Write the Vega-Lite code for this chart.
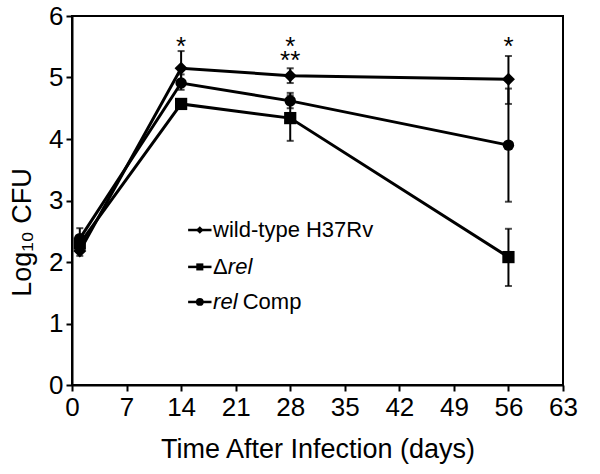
{
  "$schema": "https://vega.github.io/schema/vega-lite/v6.json",
  "width": 491,
  "height": 369,
  "autosize": {"type": "none"},
  "padding": {"left": 72, "top": 16, "right": 37, "bottom": 89},
  "background": "white",
  "config": {
    "font": "Liberation Sans",
    "view": {"stroke": "black", "strokeWidth": 2},
    "axis": {
      "domainColor": "black", "domainWidth": 2, "tickColor": "black", "tickWidth": 2, "tickSize": 6,
      "labelColor": "black", "labelFontSize": 26, "labelFont": "Liberation Sans", "labelFlush": false,
      "titleColor": "black", "titleFontSize": 27, "titleFontWeight": "normal", "titleFont": "Liberation Sans",
      "grid": false
    }
  },
  "datasets": {
    "pts": [
      {"series": "wt", "day": 1, "mean": 2.18, "lo": 2.1, "hi": 2.3},
      {"series": "wt", "day": 14, "mean": 5.15, "lo": 4.92, "hi": 5.43},
      {"series": "wt", "day": 28, "mean": 5.03, "lo": 4.91, "hi": 5.15},
      {"series": "wt", "day": 56, "mean": 4.97, "lo": 4.57, "hi": 5.35},
      {"series": "rel", "day": 1, "mean": 2.3, "lo": 2.2, "hi": 2.42},
      {"series": "rel", "day": 14, "mean": 4.57, "lo": 4.5, "hi": 4.65},
      {"series": "rel", "day": 28, "mean": 4.34, "lo": 3.97, "hi": 4.71},
      {"series": "rel", "day": 56, "mean": 2.08, "lo": 1.61, "hi": 2.54},
      {"series": "comp", "day": 1, "mean": 2.38, "lo": 2.25, "hi": 2.55},
      {"series": "comp", "day": 14, "mean": 4.91, "lo": 4.8, "hi": 5.05},
      {"series": "comp", "day": 28, "mean": 4.62, "lo": 4.5, "hi": 4.75},
      {"series": "comp", "day": 56, "mean": 3.9, "lo": 2.98, "hi": 4.82}
    ],
    "stars": [
      {"day": 14, "value": 5.5, "label": "*"},
      {"day": 28, "value": 5.5, "label": "*"},
      {"day": 28, "value": 5.27, "label": "**"},
      {"day": 56, "value": 5.5, "label": "*"}
    ]
  },
  "layer": [
    {
      "data": {"name": "pts"},
      "mark": {"type": "rule", "color": "black", "strokeWidth": 2},
      "encoding": {
        "x": {"field": "day", "type": "quantitative", "scale": {"domain": [0, 63], "nice": false},
              "axis": {"values": [0, 7, 14, 21, 28, 35, 42, 49, 56, 63], "format": "d", "title": "Time After Infection (days)", "titlePadding": 16, "labelPadding": 3}},
        "y": {"field": "lo", "type": "quantitative", "scale": {"domain": [0, 6], "nice": false},
              "axis": {"values": [0, 1, 2, 3, 4, 5, 6], "format": "d", "title": "Log₁₀ CFU", "titleX": -50, "titleY": 216, "titleBaseline": "middle", "titleAlign": "center", "labelPadding": 3}},
        "y2": {"field": "hi"}
      }
    },
    {
      "data": {"name": "pts"},
      "mark": {"type": "tick", "orient": "horizontal", "color": "black", "size": 7, "thickness": 2},
      "encoding": {
        "x": {"field": "day", "type": "quantitative"},
        "y": {"field": "lo", "type": "quantitative"}
      }
    },
    {
      "data": {"name": "pts"},
      "mark": {"type": "tick", "orient": "horizontal", "color": "black", "size": 7, "thickness": 2},
      "encoding": {
        "x": {"field": "day", "type": "quantitative"},
        "y": {"field": "hi", "type": "quantitative"}
      }
    },
    {
      "data": {"name": "pts"},
      "mark": {"type": "line", "color": "black", "strokeWidth": 3},
      "encoding": {
        "x": {"field": "day", "type": "quantitative"},
        "y": {"field": "mean", "type": "quantitative"},
        "detail": {"field": "series"}
      }
    },
    {
      "data": {"name": "pts"},
      "mark": {"type": "point", "filled": true, "color": "black", "opacity": 1},
      "encoding": {
        "x": {"field": "day", "type": "quantitative"},
        "y": {"field": "mean", "type": "quantitative"},
        "shape": {"field": "series", "type": "nominal", "scale": {"domain": ["wt", "rel", "comp"], "range": ["diamond", "square", "circle"]}, "legend": null},
        "size": {"field": "series", "type": "nominal", "scale": {"domain": ["wt", "rel", "comp"], "range": [170, 130, 170]}, "legend": null}
      }
    },
    {
      "data": {"name": "stars"},
      "mark": {"type": "text", "font": "Liberation Sans", "fontSize": 26, "color": "black", "baseline": "middle"},
      "encoding": {
        "x": {"field": "day", "type": "quantitative"},
        "y": {"field": "value", "type": "quantitative"},
        "text": {"field": "label"}
      }
    },
    {
      "data": {"values": [{"a": 1}]},
      "layer": [
        {"mark": {"type": "rule", "color": "black", "strokeWidth": 2.5},
         "encoding": {"x": {"datum": 14.9}, "x2": {"datum": 17.9}, "y": {"datum": 2.52}}},
        {"mark": {"type": "point", "shape": "diamond", "filled": true, "color": "black", "opacity": 1, "size": 55},
         "encoding": {"x": {"datum": 16.4}, "y": {"datum": 2.52}}},
        {"mark": {"type": "text", "align": "left", "baseline": "middle", "fontSize": 22, "color": "black", "font": "Liberation Sans"},
         "encoding": {"x": {"datum": 18.1}, "y": {"datum": 2.52}, "text": {"value": "wild-type H37Rv"}}},
        {"mark": {"type": "rule", "color": "black", "strokeWidth": 2.5},
         "encoding": {"x": {"datum": 14.9}, "x2": {"datum": 17.9}, "y": {"datum": 1.92}}},
        {"mark": {"type": "point", "shape": "square", "filled": true, "color": "black", "opacity": 1, "size": 50},
         "encoding": {"x": {"datum": 16.4}, "y": {"datum": 1.92}}},
        {"mark": {"type": "text", "align": "left", "baseline": "middle", "fontSize": 22, "color": "black", "font": "Liberation Sans"},
         "encoding": {"x": {"datum": 18.1}, "y": {"datum": 1.92}, "text": {"value": "Δ"}}},
        {"mark": {"type": "text", "align": "left", "baseline": "middle", "fontSize": 22, "fontStyle": "italic", "color": "black", "font": "Liberation Sans"},
         "encoding": {"x": {"datum": 20.0}, "y": {"datum": 1.92}, "text": {"value": "rel"}}},
        {"mark": {"type": "rule", "color": "black", "strokeWidth": 2.5},
         "encoding": {"x": {"datum": 14.9}, "x2": {"datum": 17.9}, "y": {"datum": 1.35}}},
        {"mark": {"type": "point", "shape": "circle", "filled": true, "color": "black", "opacity": 1, "size": 60},
         "encoding": {"x": {"datum": 16.4}, "y": {"datum": 1.35}}},
        {"mark": {"type": "text", "align": "left", "baseline": "middle", "fontSize": 22, "fontStyle": "italic", "color": "black", "font": "Liberation Sans"},
         "encoding": {"x": {"datum": 18.1}, "y": {"datum": 1.35}, "text": {"value": "rel"}}},
        {"mark": {"type": "text", "align": "left", "baseline": "middle", "fontSize": 22, "color": "black", "font": "Liberation Sans"},
         "encoding": {"x": {"datum": 21.9}, "y": {"datum": 1.35}, "text": {"value": "Comp"}}}
      ]
    }
  ]
}
